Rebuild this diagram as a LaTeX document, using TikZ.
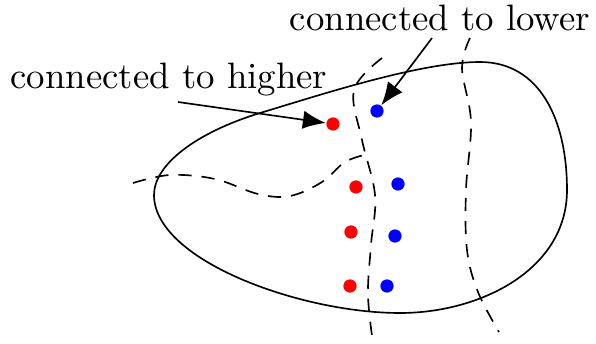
\documentclass[tikz,border=0pt]{standalone}
\usetikzlibrary{arrows.meta}
\begin{document}
\begin{tikzpicture}[x=0.272pt,y=-0.272pt,
  dotr/.style={circle,fill=red,inner sep=0pt,minimum size=3.6pt},
  dotb/.style={circle,fill=blue,inner sep=0pt,minimum size=3.6pt},
  cut/.style={dashed,dash pattern=on 3.6pt off 2.7pt,line width=0.45pt},
  lbl/.style={inner sep=0pt,anchor=base},
  ptr/.style={-{Latex[length=6.2pt,width=5pt]},line width=0.45pt}]
\useasboundingbox (0,0) rectangle (596,343);
% region
\draw[line width=0.45pt] (154,195) .. controls (154,165) and (195,133) .. (260,113)
  .. controls (320,95) and (420,62) .. (480,62)
  .. controls (540,62) and (567,120) .. (567,190)
  .. controls (567,270) and (480,313) .. (400,313)
  .. controls (300,313) and (154,260) .. (154,195) -- cycle;
% dashed cuts
\draw[cut] plot[smooth,tension=0.6] coordinates {
 (133,183) (170,175) (215,179) (258,194) (290,196) (322,182) (345,162) (368,154)};
\draw[cut] plot[smooth,tension=0.6] coordinates {
 (382,58) (354,90) (362,140) (375,195) (371,245) (368,295) (373,343)};
\draw[cut] plot[smooth,tension=0.6] coordinates {
 (470,38) (462,68) (471,122) (466,190) (467,250) (478,292) (499,332)};
% points
\node[dotr] (r1) at (333,124) {};
\node[dotr] (r2) at (356,187) {};
\node[dotr] (r3) at (351,232) {};
\node[dotr] (r4) at (350,286) {};
\node[dotb] (b1) at (377,111) {};
\node[dotb] (b2) at (398,184) {};
\node[dotb] (b3) at (395,236) {};
\node[dotb] (b4) at (387,286) {};
% labels
\node[lbl] (hi) at (169,88) {connected to higher};
\node[lbl] (lo) at (440,30) {connected to lower};
\coordinate (ha) at (178,102);
\coordinate (la) at (432,38);
\draw[ptr] (ha) -- (r1);
\draw[ptr] (la) -- (b1);
\end{tikzpicture}
\end{document}
